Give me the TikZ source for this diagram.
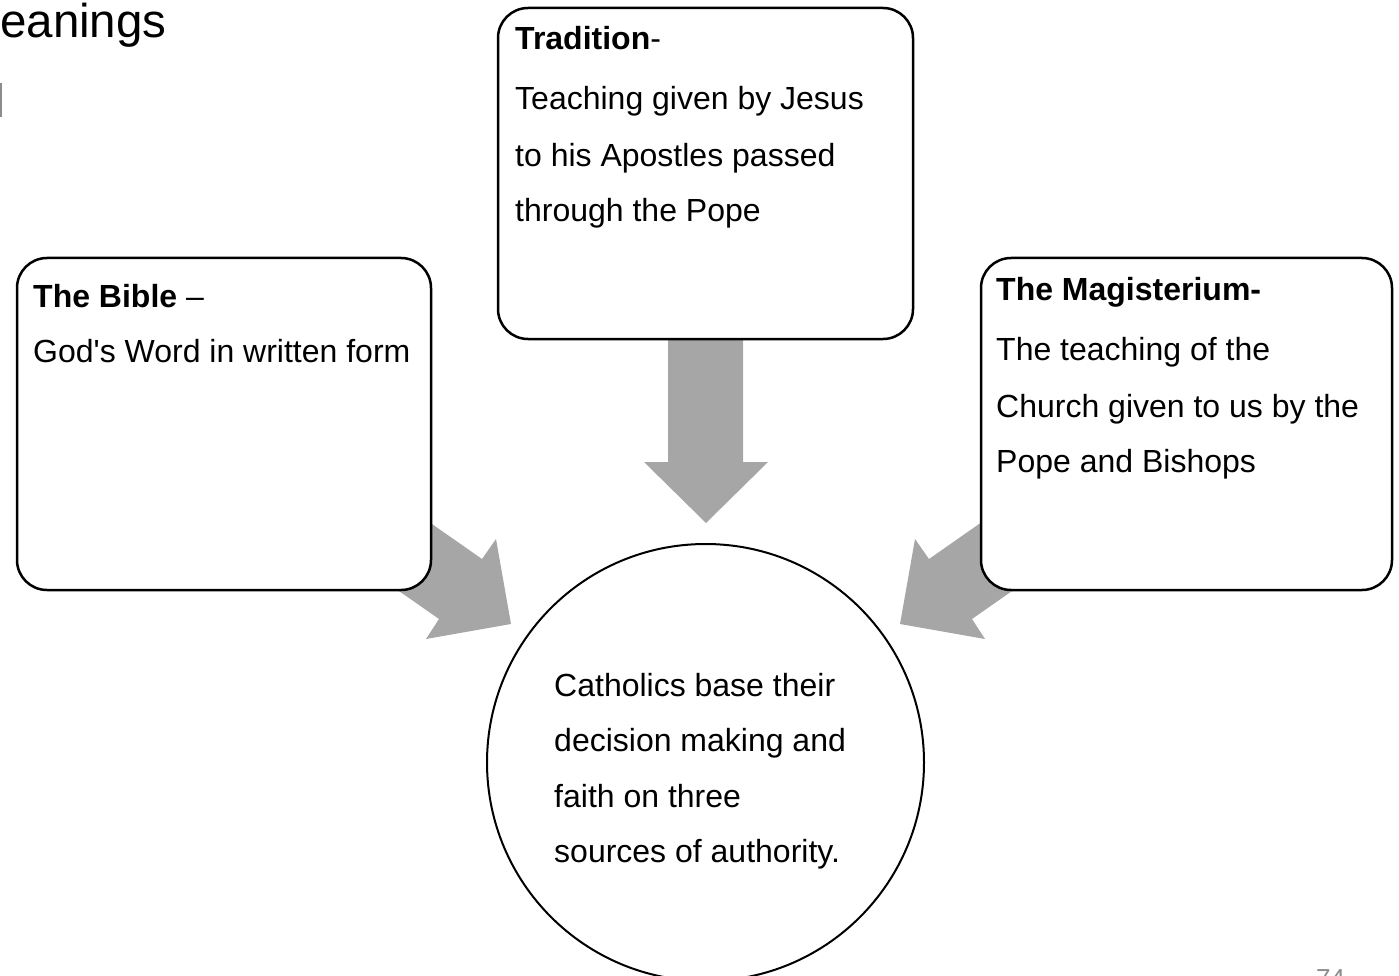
\documentclass[tikz,border=0pt]{standalone}
\usepackage{fontspec}
\setmainfont{Liberation Sans}[Ligatures=TeXOff]
\definecolor{arrowgray}{HTML}{A6A6A6}
\definecolor{pagegray}{HTML}{8C8C8C}
\begin{document}
\begin{tikzpicture}[x=1pt,y=-1pt,
  box/.style={draw=black, line width=2.5pt, rounded corners=30pt, fill=white, inner sep=0pt},
  txt/.style={anchor=base west, inner sep=0pt, font=\fontsize{32}{38}\selectfont},
  blockarrow/.style={fill=arrowgray, draw=none}]
\useasboundingbox (0,0) rectangle (1399,976);
\clip (0,0) rectangle (1399,976);

% cropped header text and mark
\node[anchor=base west, inner sep=0pt, font=\fontsize{47.5}{56}\selectfont] (hdr) at (0,38) {eanings};
\coordinate (barA) at (0.8,83);
\coordinate (barB) at (0.8,117);
\draw[pagegray, line width=1.6pt] (barA) -- (barB);

% block arrows (drawn below the boxes)
\fill[blockarrow] (668,330) -- (743,330) -- (743,462) -- (768,462) -- (706,523) -- (644,462) -- (668,462) -- cycle;
\fill[blockarrow] (359,473) -- (482,559) -- (496,539) -- (511,624) -- (426,639) -- (439,619) -- (316,533) -- cycle;
\fill[blockarrow] (1052,473) -- (929,559) -- (915,539) -- (900,624) -- (985,639) -- (972,619) -- (1095,533) -- cycle;

% boxes
\node[box, minimum width=414pt, minimum height=332pt] (bible) at (224,424) {};
\node[box, minimum width=415pt, minimum height=331pt] (trad) at (705.5,173.5) {};
\node[box, minimum width=411pt, minimum height=332pt] (mag) at (1186.5,424) {};

% centre circle
\node[draw=black, circle, line width=2pt, minimum size=437pt, inner sep=0pt, fill=white] (centre) at (705.5,762.5) {};

% Bible text
\node[txt] (bib1) at (33,307) {\textbf{The Bible} –};
\node[txt] (bib2) at (33,362) {God's Word in written form};

% Tradition text
\node[txt] (tr1) at (515,50) {\textbf{Tradition}-};
\node[txt] (tr2) at (515,110) {Teaching given by Jesus};
\node[txt] (tr3) at (515,167) {to his Apostles passed};
\node[txt] (tr4) at (515,222) {through the Pope};

% Magisterium text
\node[txt] (mg1) at (996,300) {\textbf{The Magisterium-}};
\node[txt] (mg2) at (996,360) {The teaching of the};
\node[txt] (mg3) at (996,417) {Church given to us by the};
\node[txt] (mg4) at (996,472) {Pope and Bishops};

% centre text
\node[txt] (c1) at (554,696) {Catholics base their};
\node[txt] (c2) at (554,751) {decision making and};
\node[txt] (c3) at (554,807) {faith on three};
\node[txt] (c4) at (554,862) {sources of authority.};

% page number (cropped at the bottom edge, as in the reference)
\node[anchor=north west, inner sep=0pt, text=pagegray, font=\fontsize{26}{30}\selectfont] (pnum) at (1316,969) {74};
\end{tikzpicture}
\end{document}
